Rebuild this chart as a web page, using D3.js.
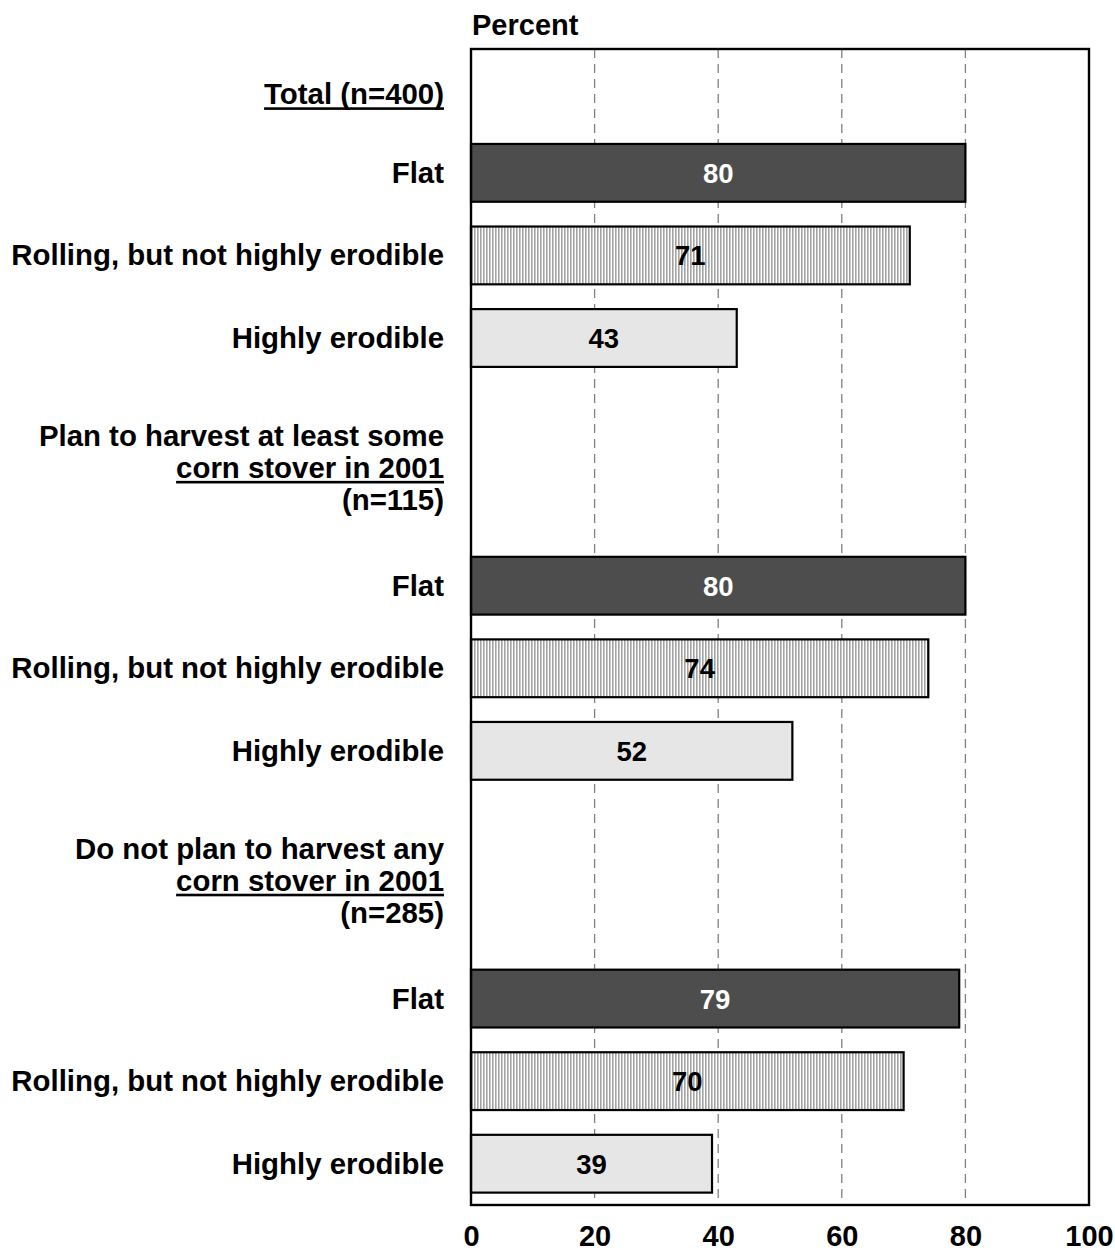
<!DOCTYPE html>
<html>
<head>
<meta charset="utf-8">
<script src="https://cdn.jsdelivr.net/npm/d3@7"></script>
<style>
  html, body { margin: 0; padding: 0; background: #fff; }
  svg { display: block; font-family: "Liberation Sans", Arial, sans-serif; font-weight: bold; }
</style>
</head>
<body>
<svg id="chart" width="1115" height="1255"></svg>
<script>
// ---- data ----
const rowKeys = ["r0","r1","r2","r3","r4","r5","r6","r7","r8","r9","r10","r11","r12","r13"];
const barLabels = ["Flat", "Rolling, but not highly erodible", "Highly erodible"];
const barTypes = ["flat", "rolling", "highly"];
const groupTitles = [
  ["Total (n=400)"],
  ["Plan to harvest at least some", "corn stover in 2001", "(n=115)"],
  ["Do not plan to harvest any", "corn stover in 2001", "(n=285)"]
];
const groupUnderline = [0, 1, 1];   // index of underlined line in each title
const totalValues = [80, 71, 43];
const planValues = [80, 74, 52];
const noPlanValues = [79, 70, 39];
const xTicks = [0, 20, 40, 60, 80, 100];
const axisTitle = "Percent";

// layout of rows: header rows then bar rows
const groupHeaderRows = [["r0"], ["r4","r5"], ["r9","r10"]];
const groupBarRows = [["r1","r2","r3"], ["r6","r7","r8"], ["r11","r12","r13"]];
const groupValues = [totalValues, planValues, noPlanValues];

const bars = [];
groupValues.forEach((vals, g) => {
  vals.forEach((v, i) => bars.push({row: groupBarRows[g][i], value: v, label: barLabels[i], type: barTypes[i]}));
});

// ---- scales ----
const svg = d3.select("#chart");
const pLeft = 471, pRight = 1089, pTop = 49, pBottom = 1205;
const x = d3.scaleLinear().domain([0, 100]).range([pLeft, pRight]);
const y = d3.scaleBand().domain(rowKeys).range([pTop, pBottom]).paddingInner(0.3).paddingOuter(0.15);

// pattern for rolling
const defs = svg.append("defs");
const pat = defs.append("pattern").attr("id", "vstripe").attr("patternUnits", "userSpaceOnUse")
  .attr("width", 3).attr("height", 10);
pat.append("rect").attr("width", 3).attr("height", 10).attr("fill", "#ffffff");
pat.append("rect").attr("x", 0).attr("width", 1.6).attr("height", 10).attr("fill", "#a3a3a3");

const fills = {flat: "#4d4d4d", rolling: "url(#vstripe)", highly: "#e6e6e6"};
const textColors = {flat: "#ffffff", rolling: "#000000", highly: "#000000"};

// gridlines
svg.append("g").selectAll("line").data(xTicks.filter(t => t > 0 && t < 100)).join("line")
  .attr("x1", d => x(d)).attr("x2", d => x(d))
  .attr("y1", pTop).attr("y2", pBottom)
  .attr("stroke", "#808080").attr("stroke-width", 1.3).attr("stroke-dasharray", "9,6");

// bars
const barG = svg.append("g");
barG.selectAll("rect").data(bars).join("rect")
  .attr("x", x(0)).attr("y", d => y(d.row))
  .attr("width", d => x(d.value) - x(0)).attr("height", y.bandwidth())
  .attr("fill", d => fills[d.type]).attr("stroke", "#000").attr("stroke-width", 2.2);

barG.selectAll("text").data(bars).join("text")
  .attr("x", d => (x(0) + x(d.value)) / 2)
  .attr("y", d => y(d.row) + y.bandwidth() / 2 + 10)
  .attr("text-anchor", "middle").attr("font-size", 27.5).attr("fill", d => textColors[d.type])
  .text(d => d.value);

// bar category labels
svg.append("g").selectAll("text").data(bars).join("text")
  .attr("x", 444).attr("y", d => y(d.row) + y.bandwidth() / 2 + 10)
  .attr("text-anchor", "end").attr("font-size", 29.4).attr("fill", "#000")
  .text(d => d.label);

// group titles
const titleG = svg.append("g");
groupTitles.forEach((lines, g) => {
  const rows = groupHeaderRows[g];
  const c0 = y(rows[0]) + y.bandwidth() / 2;
  const c1 = y(rows[rows.length - 1]) + y.bandwidth() / 2;
  const mid = (c0 + c1) / 2;
  const lh = 32;
  const base = mid + (lines.length > 1 ? 16 : 14) - (lines.length - 1) / 2 * lh;
  lines.forEach((ln, i) => {
    const t = titleG.append("text").attr("x", 444).attr("y", base + i * lh)
      .attr("text-anchor", "end").attr("font-size", 29.4).attr("fill", "#000").text(ln);
    if (i === groupUnderline[g]) {
      const w = t.node().getComputedTextLength();
      titleG.append("rect").attr("x", 444 - w).attr("y", base + i * lh + 3)
        .attr("width", w).attr("height", 2.6).attr("fill", "#000");
    }
  });
});

// frame
svg.append("rect").attr("x", pLeft).attr("y", pTop).attr("width", pRight - pLeft).attr("height", pBottom - pTop)
  .attr("fill", "none").attr("stroke", "#000").attr("stroke-width", 2.4);

// x axis
const xAxis = d3.axisBottom(x).tickValues(xTicks).tickSize(0).tickPadding(20);
const ax = svg.append("g").attr("transform", `translate(0,${pBottom})`).call(xAxis);
ax.select(".domain").remove();
ax.selectAll("text").attr("font-size", 29).attr("font-family", "Liberation Sans, Arial, sans-serif")
  .attr("font-weight", "bold").attr("fill", "#000");

// axis title
svg.append("text").attr("x", 472).attr("y", 35).attr("font-size", 29).attr("fill", "#000").text(axisTitle);
</script>
</body>
</html>
